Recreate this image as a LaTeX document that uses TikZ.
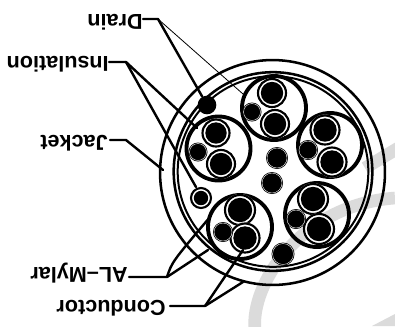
\documentclass[tikz,border=0pt]{standalone}
\usepackage{fontspec}
\setmainfont{Liberation Sans}
\tikzset{
  px/.style={x=0.75pt,y=-0.75pt},
  lead/.style={draw=black,line width=1.8pt,line cap=round,line join=round},
  thinlead/.style={draw=black,line width=0.6pt},
  lab/.style={rotate=180,font=\bfseries\fontsize{16.2}{18}\selectfont,inner sep=0pt,anchor=base west},
  pairring/.style={draw=black,line width=2.9pt},
  wm/.style={draw=black!14,line width=9.5pt}
}
\newcommand{\wire}[3]{\fill[white] (#1,#2) circle (#3); \draw[line width=1.6pt] (#1,#2) circle ({#3-1}); \fill (#1,#2) circle ({#3-3.8});}
\newcommand{\smwire}[3]{\fill (#1,#2) circle (#3); \draw[white,line width=0.3pt] (#1,#2) circle ({#3-1});}
\begin{document}
\begin{tikzpicture}[px]
\useasboundingbox (0,0) rectangle (395,326);
\fill[white] (0,0) rectangle (395,326);
\begin{scope}
\clip (0,0) rectangle (395,326);
\draw[wm] (255,330) .. controls (250,285) and (300,205) .. (395,198);
\draw[wm] (365,168) -- (400,147);
\fill[black!14] (372,326) -- (395,314) -- (395,326) -- cycle;
\end{scope}
% jacket
\node[circle,draw=black,line width=1.9pt,minimum size=168.7pt,inner sep=0pt] (jacket) at (272.5,172.5) {};
% shield
\node[circle,draw=black,line width=1.9pt,minimum size=149pt,inner sep=0pt] (shieldA) at (273,171.5) {};
\node[circle,draw=black,line width=1.5pt,minimum size=143pt,inner sep=0pt] (shieldB) at (273,171.5) {};
% pairs
\draw[pairring] (218.5,148.5) circle (32);
\wire{216}{133}{14.5}\wire{221}{164}{15}\smwire{198}{152}{9.5}
\draw[pairring] (274,108) circle (32);
\wire{272}{93}{15}\wire{275}{124}{15}\smwire{252}{112}{9.5}
\draw[pairring] (330,145) circle (32);
\wire{325}{130}{15.5}\wire{332}{162}{15.5}\smwire{308}{150}{10}
\draw[pairring] (240,227) circle (32);
\wire{240}{210}{16}\wire{245}{238}{15.5}\smwire{223}{232}{10}
\draw[pairring] (317,215) circle (32);
\wire{313}{199}{16}\wire{319}{229}{16}\smwire{296}{219}{10}
% fillers
\wire{201}{198}{11}
\smwire{277}{158}{11}\smwire{272}{183}{11}\smwire{283}{254}{11.5}
% drain
\node[circle,fill=black,minimum size=14pt,inner sep=0pt] (drain) at (207,105) {};
% labels
\node[lab] (tDrain) at (143,14.5) {Drain};
\node[lab] (tIns) at (109,56) {Insulation};
\node[lab] (tJack) at (108,135) {Jacket};
\node[lab] (tAL) at (128,267.5) {AL--Mylar};
\node[lab] (tCond) at (166,300) {Conductor};
% leaders
\coordinate (dk) at (158,19);
\coordinate (ik) at (126,62);
\coordinate (jk) at (126,140);
\coordinate (ak) at (167,277);
\coordinate (ck) at (205,306);
\draw[lead] (143,19) -- (dk) -- (drain);
\draw[thinlead] (dk) -- (243,94);
\draw[lead] (109,62) -- (ik) -- (197,128);
\draw[lead] (ik) -- (192,180) -- (196,187);
\draw[lead] (110,140) -- (jk) -- (163,170);
\draw[lead] (129,277) -- (ak) .. controls (172,262) .. (210,217);
\draw[lead] (ak) -- (208,250);
\draw[lead] (170,306) -- (ck) -- (243,250);
\draw[lead] (ck) -- (243,282);
\end{tikzpicture}
\end{document}
